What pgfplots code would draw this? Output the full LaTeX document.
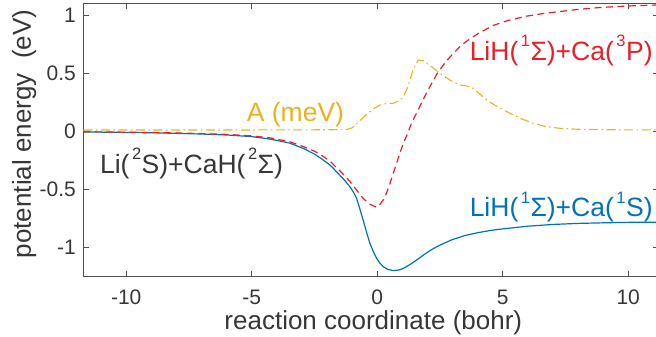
\documentclass[border=0pt]{standalone}
\usepackage{fontspec}
\setmainfont{Liberation Sans}
\usepackage{pgfplots}
\pgfplotsset{compat=1.18}
\definecolor{mblue}{RGB}{0,114,189}
\definecolor{mred}{RGB}{235,30,40}
\definecolor{myel}{RGB}{237,177,32}
\definecolor{mtxt}{RGB}{55,55,55}
\definecolor{maxis}{RGB}{80,80,80}
\newcommand\sups[1]{\kern2.5pt\raisebox{13.5pt}{\fontsize{16.5}{16.5}\selectfont #1}\kern0.5pt}
\newcommand\annfont{\fontsize{26.5}{26.5}\selectfont}
\begin{document}
\begin{tikzpicture}
\path[use as bounding box] (0,0) rectangle (656pt,337pt);
\begin{axis}[
  at={(83.3pt,60.3pt)}, anchor=south west,
  scale only axis, width=576pt, height=273.4pt,
  xmin=-11.71, xmax=11.24, ymin=-1.249, ymax=1.1006,
  axis line style={maxis, line width=0.8pt},
  tick style={maxis, line width=0.8pt},
  tick align=inside, tick pos=both, major tick length=6pt,
  xtick={-10,-5,0,5,10}, xticklabels={-10,-5,0,5,10},
  ytick={-1,-0.5,0,0.5,1}, yticklabels={-1,-0.5,0,0.5,1},
  xticklabel style={font=\fontsize{21}{21}\selectfont, text=mtxt, anchor=base, inner sep=0pt, yshift=-28.3pt},
  yticklabel style={font=\fontsize{21}{21}\selectfont, text=mtxt, anchor=east, inner sep=0pt, xshift=-7.3pt},
  xlabel={reaction coordinate (bohr)},
  ylabel={potential energy\ \ (eV)},
  xlabel style={at={(axis description cs:0.5035,-0.1924)}, anchor=base, font=\fontsize{26}{26}\selectfont, text=mtxt, inner sep=0pt},
  ylabel style={at={(axis description cs:-0.0908,0.522)}, anchor=base, font=\fontsize{26}{26}\selectfont, text=mtxt, inner sep=0pt},
  clip mode=individual,
]
\addplot[mblue, line width=1.2pt] coordinates {
(-11.71,-0.005) (-10,-0.009) (-9,-0.012) (-8,-0.017) (-7,-0.023) (-6,-0.031) (-5,-0.045)
(-4.28,-0.066) (-3.5,-0.100) (-2.95,-0.146) (-2.5,-0.195) (-2.15,-0.246) (-1.85,-0.295)
(-1.62,-0.347) (-1.3,-0.420) (-1.09,-0.476) (-0.95,-0.52) (-0.82,-0.576) (-0.7,-0.66)
(-0.56,-0.762) (-0.42,-0.87) (-0.29,-0.963) (-0.15,-1.035) (-0.02,-1.092) (0.1,-1.13)
(0.24,-1.163) (0.42,-1.186) (0.64,-1.197) (0.85,-1.192) (1.04,-1.178) (1.3,-1.145)
(1.57,-1.106) (1.85,-1.062) (2.1,-1.025) (2.3,-1.000) (2.5,-0.978) (2.75,-0.953) (3,-0.930)
(3.5,-0.895) (4,-0.871) (4.5,-0.852) (5,-0.838) (6,-0.815) (7,-0.800) (8,-0.791) (9,-0.786)
(10,-0.782) (11.3,-0.780)
};
\addplot[mred, line width=1.2pt, dash pattern=on 7pt off 4.5pt] coordinates {
(-11.71,-0.003) (-10,-0.007) (-9,-0.010) (-8,-0.014) (-7,-0.019) (-6,-0.026) (-5,-0.039)
(-4.28,-0.056) (-3.5,-0.088) (-2.95,-0.130) (-2.5,-0.170) (-2.15,-0.215) (-1.85,-0.262)
(-1.62,-0.312) (-1.3,-0.380) (-1.09,-0.430) (-0.82,-0.505) (-0.56,-0.576) (-0.3,-0.625)
(-0.02,-0.653) (0.1,-0.63) (0.24,-0.590) (0.38,-0.525) (0.51,-0.447) (0.64,-0.36)
(0.77,-0.275) (0.9,-0.19) (1.04,-0.103) (1.17,-0.040) (1.37,0.070) (1.7,0.215)
(2.0,0.345) (2.37,0.490) (2.7,0.590) (3.03,0.670) (3.35,0.740) (3.69,0.795) (4.1,0.850)
(4.62,0.910) (5.2,0.952) (5.95,0.990) (6.6,1.012) (7.28,1.030) (8,1.048) (8.8,1.063)
(9.5,1.072) (10.3,1.080) (11.3,1.087)
};
\addplot[myel, line width=1.1pt, dash pattern=on 9pt off 3.5pt on 1.5pt off 3.5pt] coordinates {
(-11.71,0.012) (-8,0.012) (-5,0.012) (-3,0.013) (-1.8,0.014) (-1.2,0.017) (-1.0,0.03)
(-0.7,0.09) (-0.4,0.15) (-0.1,0.20) (0.1,0.225) (0.35,0.238) (0.64,0.241) (0.9,0.265)
(1.04,0.298) (1.2,0.37) (1.43,0.527) (1.63,0.613) (1.83,0.607) (2.2,0.55) (2.5,0.499)
(2.9,0.44) (3.29,0.398) (3.56,0.390) (3.82,0.370) (4.1,0.32) (4.36,0.269) (4.8,0.21)
(5.29,0.155) (5.75,0.108) (6.22,0.069) (6.7,0.042) (7.28,0.026) (8,0.018) (9,0.014) (11.3,0.012)
};
\node[anchor=base west, inner sep=0pt, text=myel, font=\annfont] at (axis cs:-5.20,0.083) {A (meV)};
\node[anchor=base west, inner sep=0pt, text=mtxt, font=\annfont] at (axis cs:-11.05,-0.361) {Li(\sups{2}S)+CaH(\sups{2}Σ)};
\node[anchor=base east, inner sep=0pt, text=mblue, font=\annfont] at (axis cs:10.98,-0.734) {LiH(\sups{1}Σ)+Ca(\sups{1}S)};
\node[anchor=base east, inner sep=0pt, text=mred, font=\annfont] at (axis cs:10.98,0.613) {LiH(\sups{1}Σ)+Ca(\sups{3}P)};
\end{axis}
\end{tikzpicture}
\end{document}
